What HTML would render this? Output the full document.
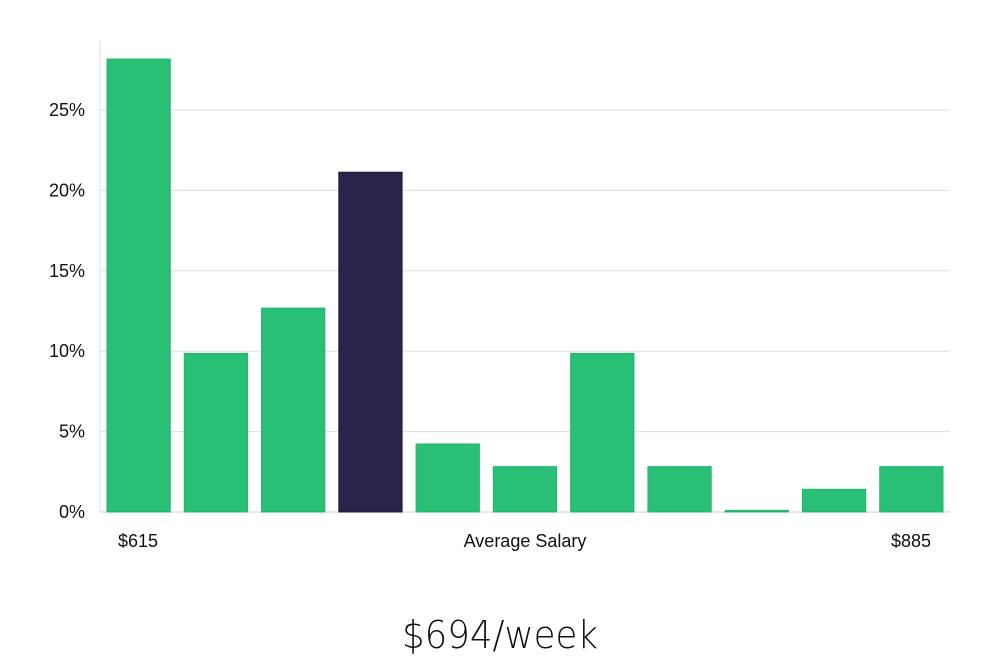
<!DOCTYPE html>
<html><head><meta charset="utf-8"><style>
body{margin:0;background:#fff;width:1000px;height:660px;overflow:hidden;font-family:"Liberation Sans","DejaVu Sans",sans-serif;}
</style></head><body>
<svg id="chart" width="1000" height="660" xmlns="http://www.w3.org/2000/svg">
<g id="grid"></g>
<g id="ylabels"></g>
<g id="bars"></g>
<line x1="100" y1="40" x2="100" y2="512" stroke="#e0e0e0" stroke-width="1"/>
<text x="138" y="547" font-size="18" text-anchor="middle" fill="#111">$615</text>
<text x="525" y="547" font-size="18" text-anchor="middle" fill="#111">Average Salary</text>
<text x="911" y="547" font-size="18" text-anchor="middle" fill="#111">$885</text>
<text x="500" y="648" font-size="38" text-anchor="middle" fill="#111" font-family="'DejaVu Sans','Liberation Sans',sans-serif" font-weight="300" textLength="196" lengthAdjust="spacingAndGlyphs">$694/week</text>
</svg>
<script>
const values=[28.17,9.86,12.68,21.13,4.23,2.82,9.86,2.82,0.1,1.41,2.82];
const highlight=[false,false,false,true,false,false,false,false,false,false,false];
const yTicks=[0,5,10,15,20,25];
const yTickLabels=["0%","5%","10%","15%","20%","25%"];
const ns="http://www.w3.org/2000/svg";
const x0=100,x1=950,yBase=512,pxPer=16.08;
const y=v=>yBase-v*pxPer;
const band=(x1-x0)/values.length;
const grid=document.getElementById('grid'),yl=document.getElementById('ylabels'),bars=document.getElementById('bars');
yTicks.forEach((t,i)=>{
 const l=document.createElementNS(ns,'line');
 
 
 l.setAttribute('x1',x0);l.setAttribute('x2',x1);l.setAttribute('y1',y(t));l.setAttribute('y2',y(t));
 l.setAttribute('stroke',t===0?'#cfcfcf':'#dedede');l.setAttribute('stroke-width','1');
 grid.appendChild(l);
 const tx=document.createElementNS(ns,'text');
 
 
 tx.setAttribute('x',85);tx.setAttribute('y',y(t)+6);tx.setAttribute('font-size','18');
 tx.setAttribute('text-anchor','end');tx.setAttribute('fill','#111');
 tx.textContent=yTickLabels[i];yl.appendChild(tx);
});
values.forEach((v,i)=>{
 const r=document.createElementNS(ns,'rect');
 
 
 const bx=x0+i*band+7;
 r.setAttribute('x',bx);r.setAttribute('width',band-14);
 r.setAttribute('y',y(v));r.setAttribute('height',Math.max(1,yBase-y(v)));
 r.setAttribute('fill',highlight[i]?'#29254a':'#29c076');
 r.setAttribute('stroke',highlight[i]?'#1d1a3d':'#22b56c');r.setAttribute('stroke-width','1');
 bars.appendChild(r);
});
</script>
</body></html>
